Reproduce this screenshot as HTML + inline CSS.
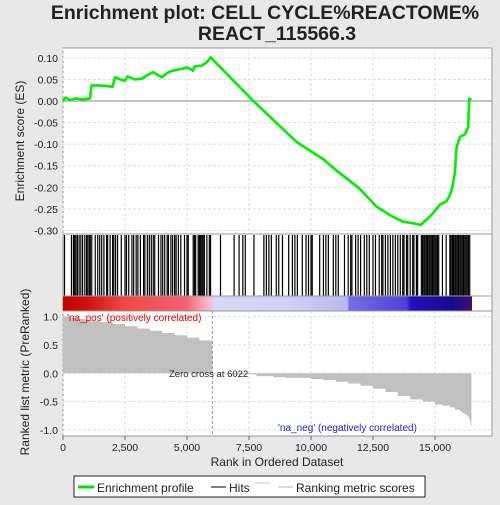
<!DOCTYPE html>
<html><head><meta charset="utf-8">
<style>
body{margin:0;background:#e8e8e8;width:500px;height:500px;overflow:hidden;font-family:"Liberation Sans",sans-serif;}
svg text{font-family:"Liberation Sans",sans-serif;}
</style></head>
<body>
<svg id="chart" width="500" height="500" xmlns="http://www.w3.org/2000/svg">
<defs>
<linearGradient id="cbar" x1="0" x2="1" y1="0" y2="0">
<stop offset="0" stop-color="#c80000"/>
<stop offset="0.06" stop-color="#d01010"/>
<stop offset="0.15" stop-color="#f04848"/>
<stop offset="0.3" stop-color="#f46070"/>
<stop offset="0.34" stop-color="#f8a0b0"/>
<stop offset="0.365" stop-color="#f0c8e0"/>
<stop offset="0.37" stop-color="#d8d8fa"/>
<stop offset="0.55" stop-color="#d0d0f8"/>
<stop offset="0.695" stop-color="#b8b8f0"/>
<stop offset="0.7" stop-color="#7070e8"/>
<stop offset="0.84" stop-color="#5040d8"/>
<stop offset="0.85" stop-color="#2010c0"/>
<stop offset="0.95" stop-color="#180890"/>
<stop offset="1" stop-color="#401070"/>
</linearGradient>
</defs>
<text x="265" y="19" text-anchor="middle" font-size="19.5" font-weight="bold" fill="#222">Enrichment plot: CELL CYCLE%REACTOME%</text>
<text x="277" y="40" text-anchor="middle" font-size="19.5" font-weight="bold" fill="#222">REACT_115566.3</text>
<rect x="63" y="48" width="429" height="388" fill="#fff" stroke="#999"/>
<g id="es-grid"></g>
<g id="es-axis"></g>
<g id="hits"></g>
<rect x="63" y="296" width="409" height="15" fill="url(#cbar)"/>
<line x1="63" y1="234" x2="492" y2="234" stroke="#999"/>
<line x1="63" y1="296" x2="492" y2="296" stroke="#999"/>
<line x1="63" y1="311" x2="492" y2="311" stroke="#999"/>
<g id="metric"></g>
<g id="es-line"></g>
<text x="67" y="321" font-size="10" fill="#e00000">'na_pos' (positively correlated)</text>
<text x="278" y="431" font-size="10" fill="#2020e0">'na_neg' (negatively correlated)</text>
<text x="169" y="377" font-size="9.5" fill="#222">Zero cross at 6022</text>
<text transform="translate(24,141) rotate(-90)" text-anchor="middle" font-size="12" fill="#222">Enrichment score (ES)</text>
<text transform="translate(29,372) rotate(-90)" text-anchor="middle" font-size="12" fill="#222">Ranked list metric (PreRanked)</text>
<text x="277" y="466" text-anchor="middle" font-size="12" fill="#222">Rank in Ordered Dataset</text>
<g>
<rect x="74" y="476" width="351" height="21" fill="#fff" stroke="#222"/>
<line x1="78" y1="487" x2="94" y2="487" stroke="#00e000" stroke-width="3"/>
<text x="97" y="492" font-size="12" fill="#222">Enrichment profile</text>
<line x1="211" y1="487" x2="226" y2="487" stroke="#000"/>
<text x="229" y="492" font-size="12" fill="#222">Hits</text>
<line x1="255" y1="483" x2="270" y2="483" stroke="#ccc"/>
<line x1="278" y1="487" x2="293" y2="487" stroke="#bbb"/>
<text x="296" y="492" font-size="12" fill="#222">Ranking metric scores</text>
</g>
<g id="x-axis"></g>
</svg>
<script>
const esRanks = [0,100,300,500,800,1090,1150,1400,1700,2000,2100,2300,2500,2600,2900,3200,3400,3630,3980,4200,4400,4850,5000,5200,5240,5300,5600,5800,5955,7675,8500,9420,10500,11000,11900,12650,13200,13710,14000,14420,14660,14920,15200,15470,15600,15700,15800,15870,16010,16210,16340,16380,16470];
const esValues = [0,0.008,0.002,0.006,0.004,0.006,0.036,0.036,0.035,0.033,0.055,0.05,0.047,0.057,0.05,0.052,0.06,0.067,0.055,0.065,0.07,0.075,0.078,0.072,0.07,0.08,0.082,0.09,0.101,0,-0.045,-0.095,-0.135,-0.16,-0.2,-0.245,-0.265,-0.28,-0.282,-0.287,-0.275,-0.26,-0.24,-0.232,-0.218,-0.2,-0.167,-0.107,-0.083,-0.077,-0.06,0.005,0.003];
const hitRanks = [60,340,420,470,520,580,650,720,790,880,950,1000,1060,1100,1160,1300,1400,1480,1560,1650,1760,1800,1900,2000,2050,2120,2200,2350,2500,2560,2650,2780,2850,2950,3020,3120,3250,3300,3400,3480,3560,3640,3700,3850,3950,4020,4100,4200,4250,4350,4420,4500,4560,4650,4750,4900,5000,5050,5250,5300,5350,5450,5500,5550,5600,5650,5700,5800,5900,5950,6350,6900,7100,7250,7350,7700,8100,8200,8300,8400,8600,8700,8850,9100,9250,9350,9450,9650,9800,9900,10000,10050,10350,10500,10600,10700,10900,11000,11100,11350,11500,11600,11650,11800,11900,12000,12150,12250,12350,12500,12600,12750,12850,12900,13000,13100,13200,13300,13400,13500,13600,13700,13750,13850,13900,14000,14100,14150,14250,14300,14450,14500,14550,14600,14650,14700,14750,14800,14850,14900,14950,15000,15050,15100,15150,15300,15450,15600,15650,15700,15750,15800,15850,15900,15950,16000,16050,16100,16150,16200,16250,16300,16350,16400];
const metricRanks = [0,300,600,900,1200,1500,2000,2500,3000,3500,4000,4500,5000,5500,6022,6023,6800,7800,8500,9000,10000,10500,11000,11500,12000,12500,13000,13500,14000,14500,15000,15300,15600,15800,16000,16100,16200,16300,16350,16400,16440,16470];
const metricValues = [1.0,0.98,0.96,0.94,0.92,0.9,0.87,0.83,0.79,0.75,0.71,0.67,0.63,0.58,0.5,0.0,-0.02,-0.05,-0.07,-0.08,-0.1,-0.12,-0.15,-0.18,-0.22,-0.27,-0.33,-0.4,-0.46,-0.5,-0.55,-0.57,-0.6,-0.64,-0.67,-0.7,-0.73,-0.76,-0.8,-0.85,-0.92,-1.0];
const xTicks = [0,2500,5000,7500,10000,12500,15000];
const xTickLabels = ["0","2,500","5,000","7,500","10,000","12,500","15,000"];
const esTicks = [0.10,0.05,0.00,-0.05,-0.10,-0.15,-0.20,-0.25,-0.30];
const esTickLabels = ["0.10","0.05","0.00","-0.05","-0.10","-0.15","-0.20","-0.25","-0.30"];
const mTicks = [1.0,0.5,0.0,-0.5,-1.0];
const mTickLabels = ["1.0","0.5","0.0","-0.5","-1.0"];

const NS="http://www.w3.org/2000/svg";
function xs(r){return 63+r*0.0248;}
function ys(v){return 101-v*431.5;}
function ym(v){return 373.3-v*56.7;}
function mk(tag,attrs,parent){const e=document.createElementNS(NS,tag);for(const k in attrs)e.setAttribute(k,attrs[k]);document.getElementById(parent).appendChild(e);return e;}

xTicks.forEach((t,i)=>{
  const x=xs(t);
  const g1=mk('line',{x1:x,y1:48,x2:x,y2:234,stroke:'#ddd','stroke-dasharray':'3,2'},'es-grid');
  
  
  const g2=mk('line',{x1:x,y1:311,x2:x,y2:436,stroke:'#ddd','stroke-dasharray':'3,2'},'es-grid');
  
  
  const tk=mk('line',{x1:x,y1:436,x2:x,y2:440,stroke:'#666'},'x-axis');
  
  
  const tl=mk('text',{x:x,y:451,'text-anchor':'middle','font-size':'10.5',fill:'#222'},'x-axis');
  tl.textContent=xTickLabels[i];
  
  
});
esTicks.forEach((t,i)=>{
  const y=ys(t);
  const g=mk('line',{x1:63,y1:y,x2:492,y2:y,stroke:t===0?'#888':'#ddd','stroke-dasharray':t===0?'':'3,2'},'es-grid');
  
  
  const tl=mk('text',{x:58,y:y+4,'text-anchor':'end','font-size':'10.5',fill:'#222'},'es-axis');
  tl.textContent=esTickLabels[i];
  
  
});
mTicks.forEach((t,i)=>{
  const y=ym(t);
  const g=mk('line',{x1:63,y1:y,x2:492,y2:y,stroke:'#ddd','stroke-dasharray':'3,2'},'es-grid');
  
  
  const tl=mk('text',{x:58,y:y+4,'text-anchor':'end','font-size':'10.5',fill:'#222'},'es-axis');
  tl.textContent=mTickLabels[i];
  
  
});
hitRanks.forEach(r=>{
  const h=mk('line',{x1:xs(r),y1:235,x2:xs(r),y2:296,stroke:'#000','stroke-width':1.2},'hits');
  
  
});
let d='M'+xs(0)+','+ym(0);
for(let i=0;i<metricRanks.length;i++){
  const x=xs(metricRanks[i]);
  if(i>0)d+=' L'+x+','+ym(metricValues[i-1]);
  d+=' L'+x+','+ym(metricValues[i]);
}
d+=' L'+xs(metricRanks[metricRanks.length-1])+','+ym(0)+' Z';
const area=mk('path',{d:d,fill:'#c0c0c0'},'metric');


const zc=mk('line',{x1:xs(6022),y1:311,x2:xs(6022),y2:436,stroke:'#999','stroke-dasharray':'3,2'},'metric');


const pts=esRanks.map((r,i)=>xs(r)+','+ys(esValues[i])).join(' ');
const pl=mk('polyline',{points:pts,fill:'none',stroke:'#00ee00','stroke-width':2.6,'stroke-linejoin':'round'},'es-line');


</script>
</body></html>
